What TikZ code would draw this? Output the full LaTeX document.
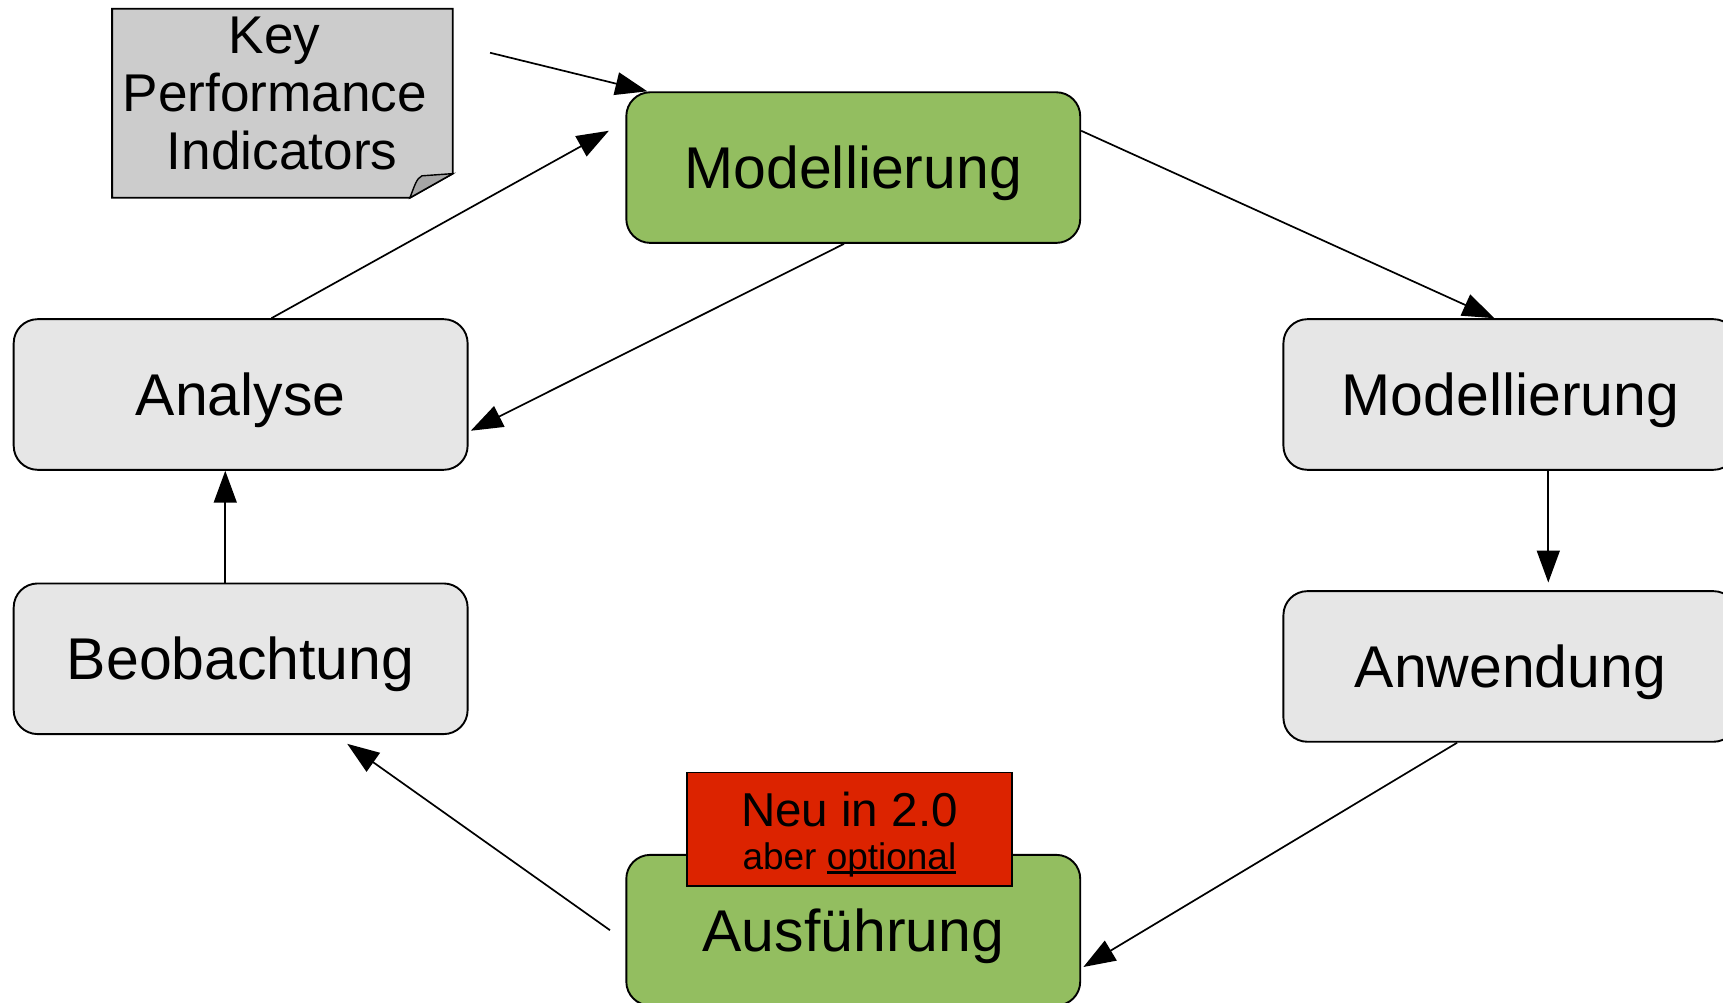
\documentclass[tikz,border=0pt]{standalone}
\usepackage{fontspec}
\setmainfont{Liberation Sans}
\usetikzlibrary{arrows.meta,calc}
\definecolor{stepgreen}{HTML}{93BE60}
\definecolor{boxgray}{HTML}{E6E6E6}
\definecolor{notegray}{HTML}{CCCCCC}
\definecolor{foldgray}{HTML}{A6A6A6}
\definecolor{flagred}{HTML}{DC2300}
% underline drawn just below the baseline, crossing descenders
\newcommand\lineunder[1]{\setbox0\hbox{#1}\rlap{\rule[-0.12em]{\wd0}{0.06em}}\box0}
\begin{document}
\begin{tikzpicture}[x=0.55pt,y=-0.55pt,
  phase/.style={draw=black,line width=0.95pt,rounded corners=12pt,
    minimum width=227.2pt,minimum height=75.4pt,inner sep=0pt,
    font=\fontsize{29.5}{35}\selectfont,text height=21pt,text depth=0pt},
  graybox/.style={phase,fill=boxgray},
  greenbox/.style={phase,fill=stepgreen},
  link/.style={line width=0.85pt,-{Triangle[length=16pt,width=11.5pt]}}]
\useasboundingbox (0,0) rectangle (1568,912);
\fill[white] (0,0) rectangle (1568,912);

% KPI note with folded corner
\filldraw[fill=notegray,draw=black,line width=0.95pt]
  (102,8) -- (412,8) -- (412,158) -- (373,180) -- (102,180) -- cycle;
\filldraw[fill=foldgray,draw=black,line width=0.7pt]
  (373,180) .. controls (377,170) and (379,162) .. (384,160) -- (412,158) -- cycle;
\node[align=center,inner sep=0pt,font=\fontsize{26.6}{29.2}\selectfont] (kpi) at (250,85)
  {Key\\Performance\\\hspace*{0.278em}Indicators};
\coordinate (kpiout) at (446,48);

% process steps
\node[greenbox] (mtop) at (776.5,152.5) {Modellierung};
\node[graybox] (analyse) at (219,359) {Analyse};
\node[graybox] (mright) at (1374.5,359) {Modellierung};
\node[graybox] (beob) at (219,599.5) {Beobachtung};
\node[graybox] (anw) at (1374.5,606.5) {Anwendung};
\node[greenbox] (ausf) at (776.5,846.5) {Ausführung};

% "new" flag on top of the execution step
\node[draw=black,line width=0.95pt,fill=flagred,minimum width=162.8pt,minimum height=56.7pt,inner sep=0pt] (flag) at (773,754.5) {};
\node[anchor=base,inner sep=0pt,font=\fontsize{23.8}{28}\selectfont] (flagtop) at (773,752) {Neu in 2.0};
\node[anchor=base,inner sep=0pt,font=\fontsize{18.5}{22}\selectfont] (flagbot) at (773,791) {aber \lineunder{optional}};

% connectors
\draw[link] (kpiout) -- ($(mtop.north west)+(20,0)$);
\draw[link] ($(analyse.north)+(28,0)$) -- ($(mtop.west)+(-15,-33.5)$);
\draw[link] ($(mtop.east)+(0,-33.5)$) -- ($(mright.north)+(-14.5,0)$);
\draw[link] ($(mright.south)+(34.5,0)$) -- ($(anw.north)+(34.5,-7)$);
\draw[link] ($(anw.south)+(-48.5,0)$) -- ($(ausf.east)+(2,33.5)$);
\coordinate (ausfout) at ($(ausf.west)+(-14,0)$);
\draw[link] (ausfout) -- ($(beob.south)+(97,8)$);
\draw[link] ($(beob.north)+(-14,0)$) -- ($(analyse.south)+(-14,0)$);
\draw[link] ($(mtop.south)+(-8.5,0)$) -- ($(analyse.east)+(2,33)$);
\end{tikzpicture}
\end{document}
